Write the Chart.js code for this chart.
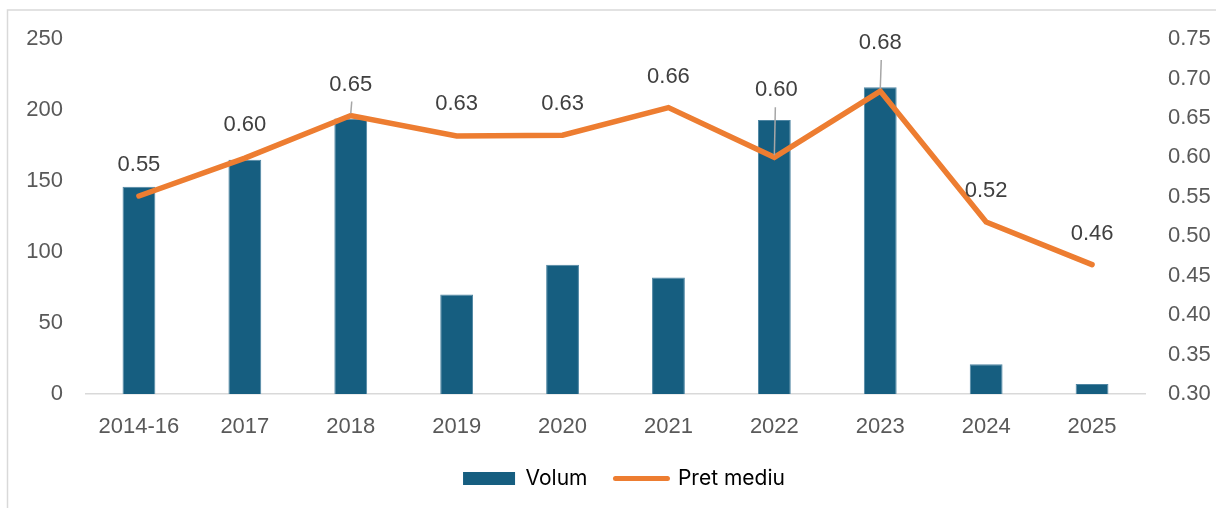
<!DOCTYPE html>
<html>
<head>
<meta charset="utf-8">
<script src="https://cdn.jsdelivr.net/npm/chart.js@4.4.1/dist/chart.umd.min.js"></script>
<style>
    html, body { margin: 0; padding: 0; background: #fff; }
</style>
</head>
<body>
<canvas id="chart" width="1216" height="508"></canvas>
<script>
const categories = ['2014-16', '2017', '2018', '2019', '2020', '2021', '2022', '2023', '2024', '2025'];
const volum = [146, 165, 194, 70, 91, 82, 193, 216, 21, 7];
const pretMediu = [0.551, 0.599, 0.653, 0.627, 0.628, 0.663, 0.600, 0.684, 0.518, 0.464];

// distance (px) of each label above its point, and which ones get a leader line
const labelLift = [31, 33, 31, 32, 31, 31, 67, 48, 31, 31];
const hasLeader = [false, false, true, false, false, false, true, true, false, false];

const BLUE = '#165E80';
const ORANGE = '#ED7D31';
const TICK_FONT = {family: "'Liberation Sans', Arial, sans-serif", size: 22};

const framePlugin = {
    id: 'frame',
    afterLayout(chart) {
        // nudge the legend a bit to the right, like the original
        chart.legend.left += 32;
    },
    beforeDraw(chart) {
        const ctx = chart.ctx;
        ctx.save();
        ctx.strokeStyle = '#d9d9d9';
        ctx.lineWidth = 1.5;
        ctx.beginPath();
        ctx.moveTo(7.5, 520);
        ctx.lineTo(7.5, 10);
        ctx.lineTo(1216, 10);
        ctx.stroke();
        ctx.restore();
    }
};

const pointLabels = {
    id: 'pointLabels',
    afterDatasetsDraw(chart) {
        const ctx = chart.ctx;
        const meta = chart.getDatasetMeta(1);
        ctx.save();
        ctx.font = "22px 'Liberation Sans', Arial, sans-serif";
        ctx.fillStyle = '#404040';
        ctx.textAlign = 'center';
        ctx.textBaseline = 'middle';
        meta.data.forEach((pt, i) => {
            const ty = pt.y - labelLift[i];
            if (hasLeader[i]) {
                ctx.strokeStyle = '#a6a6a6';
                ctx.lineWidth = 1.5;
                ctx.beginPath();
                ctx.moveTo(pt.x + 1, ty + 17);
                ctx.lineTo(pt.x, pt.y - 2);
                ctx.stroke();
            }
            ctx.fillText(pretMediu[i].toFixed(2), pt.x + (i === 6 ? 2 : 0), ty);
        });
        ctx.restore();
    }
};

new Chart('chart', {
    type: 'bar',
    data: {
        labels: categories,
        datasets: [{
            label: 'Volum',
            data: volum,
            backgroundColor: BLUE,
            borderColor: '#4f86a3',
            borderWidth: {left: 1, right: 1, top: 1, bottom: 0},
            categoryPercentage: 1,
            barPercentage: 0.31,
            yAxisID: 'y',
            order: 2
        }, {
            type: 'line',
            label: 'Pret mediu',
            data: pretMediu,
            borderColor: ORANGE,
            borderWidth: 5.5,
            borderCapStyle: 'round',
            borderJoinStyle: 'miter',
            pointRadius: 0,
            tension: 0,
            yAxisID: 'y1',
            order: 1
        }]
    },
    options: {
        responsive: false,
        animation: false,
        devicePixelRatio: 1,
        layout: {padding: {left: 0, right: 0, top: 39, bottom: 9}},
        plugins: {
            title: {display: false},
            tooltip: {enabled: false},
            legend: {
                position: 'bottom',
                labels: {
                    usePointStyle: true,
                    pointStyleWidth: 52,
                    boxHeight: 13,
                    padding: 28,
                    color: '#595959',
                    font: {family: "Inter, 'Open Sans', sans-serif", size: 21},
                    generateLabels: () => [
                        {text: 'Volum', pointStyle: 'rect', fillStyle: BLUE, strokeStyle: BLUE, lineWidth: 0, datasetIndex: 0},
                        {text: 'Pret mediu', pointStyle: 'line', fillStyle: ORANGE, strokeStyle: ORANGE, lineWidth: 5, lineCap: 'round', datasetIndex: 1}
                    ]
                }
            }
        },
        scales: {
            x: {
                grid: {display: false, drawTicks: false},
                border: {color: '#d9d9d9', width: 1.5},
                ticks: {color: '#595959', font: TICK_FONT, padding: 20, maxRotation: 0},
                afterFit: (s) => { s.height = 46; }
            },
            y: {
                position: 'left',
                min: 0, max: 250,
                grid: {display: false, drawTicks: false},
                border: {display: false},
                ticks: {stepSize: 50, color: '#595959', font: TICK_FONT, padding: 23},
                afterFit: (s) => { s.width = 86; }
            },
            y1: {
                position: 'right',
                min: 0.30, max: 0.75,
                grid: {display: false, drawTicks: false},
                border: {display: false},
                ticks: {
                    stepSize: 0.05, color: '#595959', font: TICK_FONT, padding: 23,
                    callback: (v) => v.toFixed(2)
                },
                afterFit: (s) => { s.width = 71; }
            }
        }
    },
    plugins: [framePlugin, pointLabels]
});
</script>
</body>
</html>
